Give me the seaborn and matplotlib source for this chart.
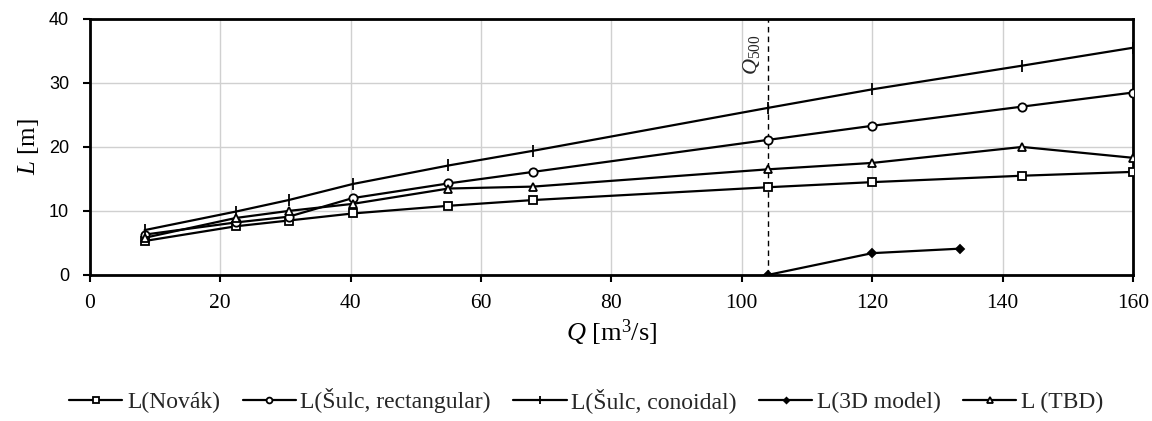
import matplotlib
matplotlib.use("Agg")
import matplotlib.pyplot as plt
import seaborn as sns
import pandas as pd

# ---- data ----
q_main = [8.4, 22.4, 30.5, 40.3, 55.0, 68.0, 104.0, 120.0, 143.0, 160.0]
l_novak = [5.3, 7.6, 8.5, 9.6, 10.8, 11.7, 13.7, 14.5, 15.5, 16.1]
l_sulc_rect = [6.3, 8.2, 9.1, 12.0, 14.3, 16.1, 21.1, 23.3, 26.3, 28.5]
l_sulc_con = [7.0, 9.9, 11.7, 14.2, 17.1, 19.4, 26.1, 29.0, 32.7, 35.5]
l_tbd = [5.8, 8.9, 10.0, 11.1, 13.5, 13.8, 16.5, 17.5, 20.0, 18.3]
q_3d = [104.0, 120.0, 133.4]
l_3d = [0.0, 3.4, 4.1]
q500 = 104.0

labels = ["L(Novák)", "L(Šulc, rectangular)", "L(Šulc, conoidal)", "L(3D model)", "L (TBD)"]
x_ticks = [0, 20, 40, 60, 80, 100, 120, 140, 160]
y_ticks = [0, 10, 20, 30, 40]

sns.set_theme(style="whitegrid")
plt.rcParams['font.family'] = ['Liberation Serif', 'DejaVu Serif']
plt.rcParams['mathtext.fontset'] = 'custom'
plt.rcParams['mathtext.rm'] = 'Liberation Serif'
plt.rcParams['mathtext.it'] = 'Liberation Serif:italic'

fig, ax = plt.subplots(figsize=(11.52, 4.21), dpi=100)
fig.subplots_adjust(left=0.078, right=0.9835, top=0.955, bottom=0.347)

series = [
    (q_main, l_novak, 's', 'white', 6, labels[0]),
    (q_main, l_sulc_rect, 'o', 'white', 6, labels[1]),
    (q_main, l_sulc_con, '|', 'black', 8, labels[2]),
    (q_3d, l_3d, 'D', 'black', 4, labels[3]),
    (q_main, l_tbd, '^', 'white', 6, labels[4]),
]
for xs, ys, mk, mfc, ms, lab in series:
    df = pd.DataFrame({"Q": xs, "L": ys})
    sns.lineplot(data=df, x="Q", y="L", ax=ax, color='black', linewidth=1.6,
                 marker=mk, markersize=ms, markerfacecolor=mfc,
                 markeredgecolor='black', markeredgewidth=1.3, label=lab,
                 sort=False, zorder=3)

ax.axvline(q500, color='black', linestyle=(0, (4, 3)), linewidth=1.0, zorder=2)
ax.text(q500 - 0.9, 37.6, r"$Q_{500}$", rotation=90, ha='right', va='top', fontsize=16)

ax.set_xlim(0, 160)
ax.set_ylim(0, 40)
ax.set_xticks(x_ticks)
ax.set_yticks(y_ticks)
ax.grid(True, color='#d0d0d0', linewidth=1.0)
ax.set_axisbelow(True)
for s in ax.spines.values():
    s.set_color('black')
    s.set_linewidth(2.0)
ax.tick_params(axis='both', direction='out', length=5, width=1.5, color='black',
               labelcolor='black', left=True, bottom=True)
ax.tick_params(axis='x', labelsize=15.5, pad=9)
ax.tick_params(axis='y', labelsize=13, pad=10)
for t in ax.get_yticklabels():
    t.set_family(['Liberation Sans', 'DejaVu Sans'])

ax.set_xlabel(r"$Q$ [m$^3$/s]", fontsize=19, color='black', labelpad=3)
ax.set_ylabel(r"$L$ [m]", fontsize=18, color='black', labelpad=6)

leg = ax.legend(loc='center', bbox_to_anchor=(0.476, -0.49), ncol=5, frameon=False,
                fontsize=17, handlelength=2.25, columnspacing=0.95, handletextpad=0.2,
                markerscale=0.7)

fig.savefig("out.png", dpi=100, facecolor='white')
